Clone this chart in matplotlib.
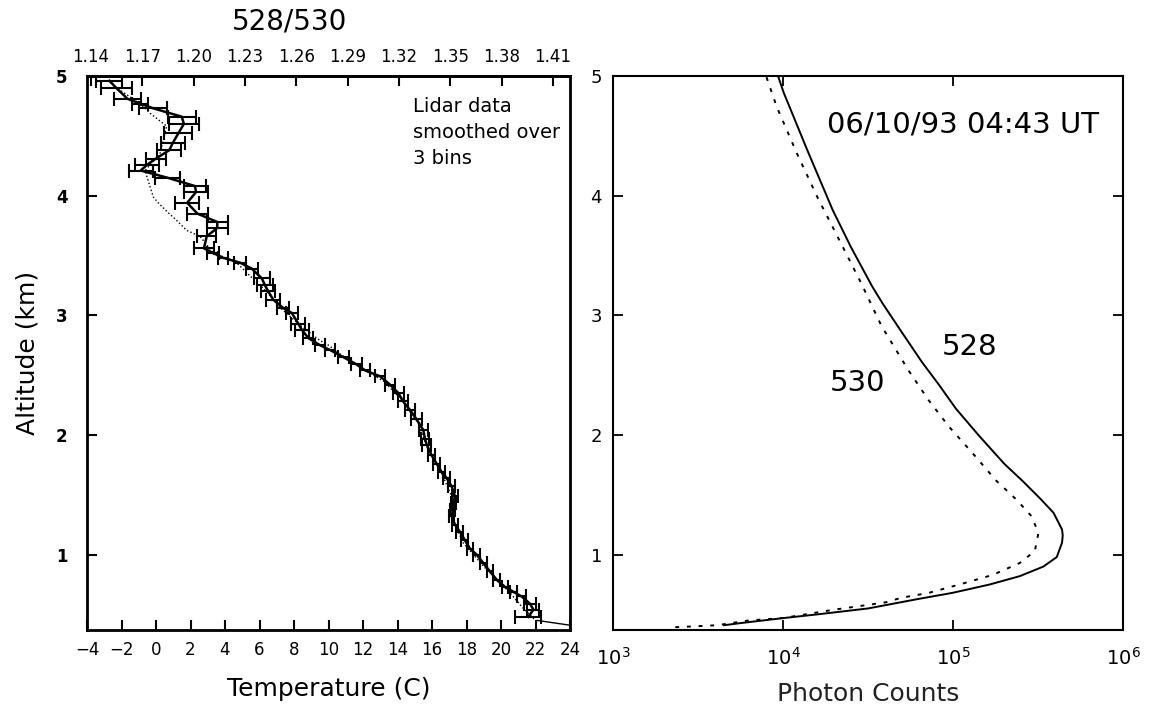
import matplotlib
matplotlib.use("Agg")
import matplotlib.pyplot as plt
from matplotlib.ticker import NullLocator

# lidar temperature profile (altitude km, temperature C, error C)
lidar_alt = [4.96, 4.90, 4.81, 4.77, 4.73, 4.66, 4.60, 4.52, 4.44, 4.38, 4.31, 4.26, 4.21,
             4.15, 4.08, 4.03, 3.94, 3.85, 3.78, 3.73, 3.66, 3.56, 3.52, 3.48, 3.44, 3.39,
             3.31, 3.25, 3.20, 3.13, 3.06, 3.02, 2.93, 2.88, 2.81, 2.75, 2.71, 2.65, 2.59,
             2.54, 2.49, 2.42, 2.35, 2.28, 2.21, 2.13, 2.04, 1.97, 1.92, 1.83, 1.76, 1.69,
             1.64, 1.57, 1.49, 1.43, 1.37, 1.32, 1.25, 1.19, 1.12, 1.05, 1.00, 0.93, 0.86,
             0.79, 0.73, 0.69, 0.65, 0.59, 0.54, 0.48]
lidar_temp = [-2.7, -2.3, -1.66, -0.93, -0.16, 1.49, 1.62, 1.29, 0.97, 0.77, 0.0, -0.5, -0.89,
              0.66, 2.26, 2.32, 1.81, 2.40, 3.55, 3.55, 2.94, 2.78, 3.32, 3.90, 4.87, 5.55,
              6.13, 6.32, 6.51, 6.80, 7.38, 7.87, 8.25, 8.45, 8.83, 9.51, 10.09, 10.86, 11.63,
              12.12, 12.99, 13.57, 14.05, 14.33, 14.72, 15.11, 15.50, 15.59, 15.69, 15.98, 16.27, 16.56,
              16.85, 17.14, 17.33, 17.24, 17.20, 17.14, 17.33, 17.62, 17.91, 18.20, 18.59, 18.97, 19.36,
              19.75, 20.23, 20.71, 21.20, 21.68, 21.88, 21.58]
lidar_err = [0.75, 0.9, 0.8, 0.45, 0.8, 0.8, 0.85, 0.8, 0.7, 0.7, 0.6, 0.7, 0.7,
             0.72, 0.65, 0.7, 0.7, 0.6, 0.6, 0.6, 0.55, 0.6, 0.35, 0.3, 0.35, 0.35,
             0.45, 0.45, 0.4, 0.4, 0.35, 0.35, 0.4, 0.4, 0.3, 0.3, 0.3, 0.3, 0.3,
             0.3, 0.3, 0.3, 0.3, 0.3, 0.3, 0.3, 0.25, 0.25, 0.25, 0.2, 0.2, 0.2,
             0.2, 0.2, 0.15, 0.15, 0.15, 0.15, 0.15, 0.2, 0.2, 0.2, 0.2, 0.2, 0.2,
             0.2, 0.2, 0.2, 0.25, 0.35, 0.35, 0.75]

# surface segment at the bottom
sfc_temp = [22.1, 24.0]
sfc_alt = [0.45, 0.41]

# radiosonde (dotted)
sonde_alt = [4.91, 4.77, 4.69, 4.58, 4.35, 4.21, 3.99, 3.94, 3.87, 3.78, 3.71, 3.66, 3.59,
             3.52, 3.45, 3.35, 3.20, 3.05, 2.90, 2.79, 2.75, 2.60, 2.45, 2.30, 2.10, 1.90,
             1.70, 1.50, 1.30, 1.10, 0.90, 0.70, 0.55, 0.45]
sonde_temp = [-2.38, -0.93, -0.35, 0.62, 0.23, -0.64, -0.16, 0.13, 0.62, 1.29, 1.78, 2.55, 2.94,
              3.32, 4.6, 5.3, 6.4, 7.3, 8.5, 9.5, 10.0, 11.4, 13.2, 14.2, 15.2, 15.7,
              16.5, 17.1, 17.2, 17.8, 19.0, 20.4, 21.3, 22.0]

# top axis 528/530 ratio ticks
ratio_ticks = [1.14, 1.17, 1.20, 1.23, 1.26, 1.29, 1.32, 1.35, 1.38, 1.41]

# photon counts
p528_alt = [4.99, 4.86, 4.38, 3.88, 3.57, 3.24, 3.10, 2.86, 2.61, 2.42, 2.22, 1.99, 1.76,
            1.61, 1.47, 1.35, 1.21, 1.16, 1.10, 0.98, 0.90, 0.82, 0.75, 0.68, 0.63, 0.55,
            0.50, 0.47, 0.43, 0.41]
p528_counts = [9.4e3, 1.01e4, 1.39e4, 1.96e4, 2.51e4, 3.35e4, 3.85e4, 4.99e4, 6.56e4, 8.26e4,
               1.04e5, 1.43e5, 2.0e5, 2.59e5, 3.25e5, 3.90e5, 4.38e5, 4.42e5, 4.38e5, 4.08e5,
               3.40e5, 2.47e5, 1.64e5, 9.9e4, 6.28e4, 3.16e4, 1.58e4, 1.01e4, 5.8e3, 4.5e3]
p530_alt = [4.99, 4.74, 4.35, 3.99, 3.66, 3.27, 2.91, 2.54, 2.29, 2.07, 1.85, 1.62, 1.46,
            1.32, 1.18, 1.03, 0.93, 0.83, 0.75, 0.68, 0.64, 0.60, 0.54, 0.47, 0.45, 0.41, 0.39]
p530_counts = [8.0e3, 9.2e3, 1.21e4, 1.59e4, 2.09e4, 2.88e4, 3.80e4, 5.47e4, 7.19e4, 9.46e4,
               1.30e5, 1.79e5, 2.36e5, 2.90e5, 3.18e5, 3.03e5, 2.47e5, 1.71e5, 1.09e5, 7.19e4,
               4.99e4, 3.98e4, 2.0e4, 1.0e4, 6.3e3, 4.1e3, 2.1e3]

W, H = 1149, 714
fig = plt.figure(figsize=(W / 100, H / 100), dpi=100)

# ---- left panel: temperature ----
ax1 = fig.add_axes([87 / W, 84 / H, 483 / W, 554 / H])
ax1.plot(sonde_temp, sonde_alt, color="k", linestyle=":", linewidth=1.0)
ax1.errorbar(lidar_temp, lidar_alt, xerr=lidar_err, color="k", linewidth=1.8,
             elinewidth=1.5, capsize=5, capthick=1.5)
ax1.plot(sfc_temp, sfc_alt, color="k", linewidth=1.0)
ax1.set_xlim(-4, 24)
ax1.set_ylim(0.37, 5)
ax1.set_xticks(range(-4, 25, 2))
ax1.set_xticklabels(["\u22124", "\u22122"] + [str(v) for v in range(0, 25, 2)])
ax1.set_yticks([1, 2, 3, 4, 5])
ax1.tick_params(axis="x", direction="in", length=7, width=1.5, labelsize=12, pad=8)
ax1.tick_params(axis="y", direction="in", length=7, width=1.5, labelsize=12, pad=14)
for lab in ax1.get_yticklabels():
    lab.set_fontweight("bold")
for s in ax1.spines.values():
    s.set_linewidth(2)
ax1.set_xlabel("Temperature (C)", fontsize=18, labelpad=13)
ax1.set_ylabel("Altitude (km)", fontsize=18, labelpad=12)
ax1.text(0.675, 0.962, "Lidar data\nsmoothed over\n3 bins", transform=ax1.transAxes,
         fontsize=14, va="top", ha="left", linespacing=1.45)

ax1t = ax1.twiny()
ax1t.set_xlim(1.1377, 1.4199)
ax1t.set_xticks(ratio_ticks)
ax1t.set_xticklabels(["%.2f" % r for r in ratio_ticks])
ax1t.tick_params(axis="x", direction="in", length=7, width=1.5, labelsize=12, pad=7)
ax1t.spines["top"].set_linewidth(2)
fig.text(290 / W, 1 - 22 / H, "528/530", fontsize=20, ha="center", va="center")

# ---- right panel: photon counts ----
ax2 = fig.add_axes([613 / W, 84 / H, 510 / W, 554 / H])
ax2.plot(p528_counts, p528_alt, color="k", linewidth=1.4)
ax2.plot(p530_counts, p530_alt, color="k", linewidth=1.4, linestyle=(0, (2, 4)))
ax2.set_xscale("log")
ax2.set_xlim(1e3, 1e6)
ax2.set_ylim(0.37, 5)
ax2.set_yticks([1, 2, 3, 4, 5])
ax2.xaxis.set_minor_locator(NullLocator())
ax2.tick_params(axis="both", which="both", direction="in", length=7, width=1.3,
                top=True, right=True, labelsize=13, pad=8)
ax2.tick_params(axis="x", labelsize=14, pad=12)
for s in ax2.spines.values():
    s.set_linewidth(1.5)
ax2.set_xlabel("Photon Counts", fontsize=18, labelpad=10, color="#222222")
ax2.text(0.42, 0.912, "06/10/93 04:43 UT", transform=ax2.transAxes, fontsize=21,
         ha="left", va="center")
ax2.text(0.70, 0.511, "528", transform=ax2.transAxes, fontsize=21, ha="center", va="center")
ax2.text(0.48, 0.446, "530", transform=ax2.transAxes, fontsize=21, ha="center", va="center")

fig.savefig("out.png", dpi=100)
